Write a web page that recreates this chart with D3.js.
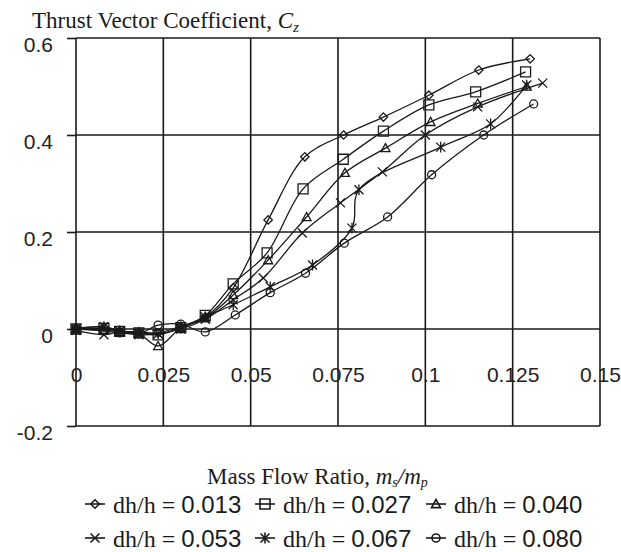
<!DOCTYPE html>
<html>
<head>
<meta charset="utf-8">
<script src="https://cdn.jsdelivr.net/npm/d3@7"></script>
<style>
  body { margin: 0; background: #fff; }
</style>
</head>
<body>
<div id="chart"></div>
<script>
// axis ticks
let xTicks = [0, 0.025, 0.05, 0.075, 0.1, 0.125, 0.15];
let xTickLabels = ["0", "0.025", "0.05", "0.075", "0.1", "0.125", "0.15"];
let yTicks = [-0.2, 0, 0.2, 0.4, 0.6];
let yTickLabels = ["-0.2", "0", "0.2", "0.4", "0.6"];

// series, [mass flow ratio, Cz]
let seriesLabels = ["0.013", "0.027", "0.040", "0.053", "0.067", "0.080"];
let seriesMarkers = ["diamond", "square", "triangle", "x", "star", "circle"];

let ratio013 = [[0, 0.002], [0.008, 0.004], [0.0125, -0.004], [0.018, -0.006], [0.0235, -0.008],
  [0.030, 0.006], [0.037, 0.025], [0.045, 0.085], [0.055, 0.225], [0.0655, 0.355],
  [0.0766, 0.40], [0.088, 0.437], [0.101, 0.482], [0.1153, 0.534], [0.130, 0.557]];
let ratio027 = [[0, 0], [0.008, 0.001], [0.0125, -0.005], [0.018, -0.008], [0.0235, -0.012],
  [0.030, 0.003], [0.037, 0.028], [0.045, 0.093], [0.0547, 0.157], [0.065, 0.289],
  [0.0765, 0.35], [0.088, 0.408], [0.101, 0.462], [0.1144, 0.489], [0.1287, 0.53]];
let ratio040 = [[0, 0], [0.008, -0.002], [0.0125, -0.006], [0.018, -0.01], [0.0235, -0.035],
  [0.030, 0.002], [0.037, 0.022], [0.045, 0.07], [0.055, 0.142], [0.066, 0.231],
  [0.077, 0.322], [0.0886, 0.373], [0.1015, 0.427], [0.115, 0.465], [0.129, 0.50]];
let ratio053 = [[0, -0.003], [0.008, -0.012], [0.0125, -0.006], [0.018, -0.012], [0.0235, -0.01],
  [0.030, 0.0], [0.037, 0.02], [0.045, 0.06], [0.0536, 0.105], [0.0648, 0.198],
  [0.0757, 0.26], [0.0877, 0.324], [0.1, 0.40], [0.115, 0.458], [0.1336, 0.507]];
let ratio067 = [[0, 0], [0.008, 0.005], [0.0125, -0.004], [0.018, -0.008], [0.0235, -0.01],
  [0.030, 0.002], [0.037, 0.025], [0.045, 0.05], [0.0556, 0.087], [0.0677, 0.132],
  [0.079, 0.208], [0.081, 0.287], [0.1044, 0.375], [0.1187, 0.423], [0.129, 0.503]];
let ratio080 = [[0, 0], [0.008, -0.004], [0.0125, -0.008], [0.018, -0.01], [0.0235, 0.008],
  [0.030, 0.01], [0.037, -0.006], [0.0456, 0.029], [0.0556, 0.075], [0.0657, 0.115],
  [0.0768, 0.177], [0.0892, 0.231], [0.1018, 0.318], [0.1167, 0.40], [0.131, 0.464]];

let allSeries = [ratio013, ratio027, ratio040, ratio053, ratio067, ratio080];

let width = 621;
let height = 552;
let serif = "'Liberation Serif', 'Times New Roman', serif";
let sans = "'Liberation Sans', Arial, sans-serif";
let ink = "#1a1a1a";

let svg = d3.select("#chart")
  .append("svg")
  .attr("width", width)
  .attr("height", height);

let x = d3.scaleLinear().domain([0, 0.15]).range([76, 600]);
let y = d3.scaleLinear().domain([-0.2, 0.6]).range([426, 38]);

// grid
svg.append("g")
  .selectAll("line")
  .data(xTicks)
  .join("line")
  .attr("x1", d => x(d))
  .attr("x2", d => x(d))
  .attr("y1", y(0.6))
  .attr("y2", y(-0.2))
  .attr("stroke", ink)
  .attr("stroke-width", 1.6);

svg.append("g")
  .selectAll("line")
  .data(yTicks)
  .join("line")
  .attr("x1", x(0))
  .attr("x2", x(0.15))
  .attr("y1", d => y(d))
  .attr("y2", d => y(d))
  .attr("stroke", ink)
  .attr("stroke-width", 1.6);

// y axis
let yAxis = svg.append("g")
  .attr("transform", "translate(" + x(0) + ",0)")
  .call(d3.axisLeft(y).tickValues(yTicks)
    .tickFormat((d, i) => yTickLabels[i])
    .tickSize(9).tickPadding(14));
yAxis.select(".domain").remove();
yAxis.selectAll("line").attr("stroke", ink).attr("stroke-width", 1.6);
yAxis.selectAll("text")
  .attr("dy", "0.62em")
  .style("font-family", sans)
  .style("font-size", "21px")
  .attr("fill", "#222");

// x axis, labels hang under the zero line
let xAxis = svg.append("g")
  .attr("transform", "translate(0," + y(0) + ")")
  .call(d3.axisBottom(x).tickValues(xTicks)
    .tickFormat((d, i) => xTickLabels[i])
    .tickSize(0).tickPadding(38));
xAxis.select(".domain").remove();
xAxis.selectAll("text")
  .style("font-family", sans)
  .style("font-size", "21px")
  .attr("fill", "#222");

function markerPath(type, s) {
  if (type === "diamond") return `M0,${-s}L${s},0L0,${s}L${-s},0Z`;
  if (type === "square") return `M${-s},${-s}H${s}V${s}H${-s}Z`;
  if (type === "triangle") return `M0,${-s}L${s},${s * 0.8}H${-s}Z`;
  if (type === "x") return `M${-s},${-s}L${s},${s}M${-s},${s}L${s},${-s}`;
  if (type === "star") return `M${-s},${-s}L${s},${s}M${-s},${s}L${s},${-s}M0,${-s * 1.2}V${s * 1.2}`;
  return `M${s},0A${s},${s} 0 1,1 ${-s},0A${s},${s} 0 1,1 ${s},0Z`;
}
let markerSize = { diamond: 4.2, square: 5, triangle: 4.5, x: 4.5, star: 4.5, circle: 4 };

let line = d3.line()
  .x(d => x(d[0]))
  .y(d => y(d[1]))
  .curve(d3.curveCatmullRom.alpha(0.5));

allSeries.forEach(function (data, i) {
  let g = svg.append("g");
  g.append("path")
    .attr("d", line(data))
    .attr("fill", "none")
    .attr("stroke", ink)
    .attr("stroke-width", 1.3);
  g.selectAll("path.mark")
    .data(data)
    .join("path")
    .attr("class", "mark")
    .attr("transform", d => "translate(" + x(d[0]) + "," + y(d[1]) + ")")
    .attr("d", markerPath(seriesMarkers[i], markerSize[seriesMarkers[i]]))
    .attr("fill", "none")
    .attr("stroke", ink)
    .attr("stroke-width", 1.3);
});

// axis titles
let title = svg.append("text")
  .attr("x", 32)
  .attr("y", 28)
  .style("font-family", serif)
  .style("font-size", "23px")
  .attr("fill", ink);
title.append("tspan").text("Thrust Vector Coefficient, ");
title.append("tspan").style("font-style", "italic").text("C");
title.append("tspan").style("font-style", "italic").style("font-size", "15px").attr("dy", 4).text("z");

let xTitle = svg.append("text")
  .attr("x", 207)
  .attr("y", 484)
  .style("font-family", serif)
  .style("font-size", "23px")
  .attr("fill", ink);
xTitle.append("tspan").text("Mass Flow Ratio, ");
xTitle.append("tspan").style("font-style", "italic").text("m");
xTitle.append("tspan").style("font-style", "italic").style("font-size", "14px").attr("dy", 3).text("s");
xTitle.append("tspan").style("font-style", "italic").attr("dy", -3).text("/m");
xTitle.append("tspan").style("font-style", "italic").style("font-size", "14px").attr("dy", 3).text("p");

// legend
let legendX = [85, 255, 426];
let legendY = [513, 547];
seriesLabels.forEach(function (lab, i) {
  let lx = legendX[i % 3];
  let ly = legendY[Math.floor(i / 3)];
  let g = svg.append("g");
  g.append("line")
    .attr("x1", lx).attr("x2", lx + 20)
    .attr("y1", ly - 9).attr("y2", ly - 9)
    .attr("stroke", ink).attr("stroke-width", 1.6);
  g.append("path")
    .attr("transform", "translate(" + (lx + 10) + "," + (ly - 9) + ")")
    .attr("d", markerPath(seriesMarkers[i], markerSize[seriesMarkers[i]]))
    .attr("fill", "none")
    .attr("stroke", ink)
    .attr("stroke-width", 1.6);
  let t = g.append("text")
    .attr("x", lx + 28)
    .attr("y", ly)
    .style("font-size", "24px")
    .attr("fill", ink);
  t.append("tspan").style("font-family", serif).text("dh/h = ");
  t.append("tspan").style("font-family", sans).text(lab);
});
</script>
</body>
</html>
